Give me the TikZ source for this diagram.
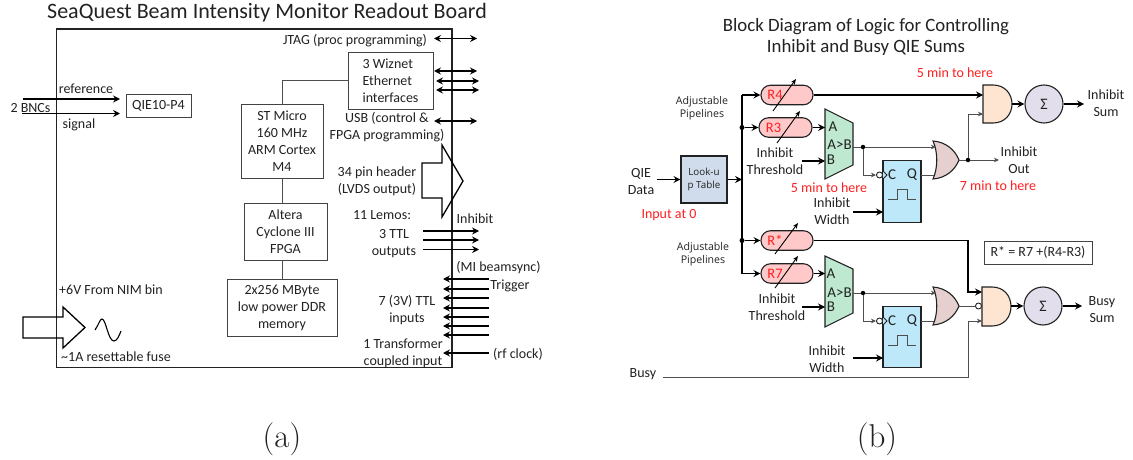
\documentclass[tikz,border=0pt]{standalone}
\usepackage{fontspec}
\setmainfont{Carlito}
\newfontfamily\verafont{Open Sans}
\newfontfamily\lmfont{Latin Modern Roman}
\usetikzlibrary{arrows.meta}
\definecolor{rfill}{HTML}{FFC9C9}
\definecolor{muxfill}{HTML}{BFE8D0}
\definecolor{lutfill}{HTML}{D0DCEC}
\definecolor{fffill}{HTML}{BCE8FA}
\definecolor{orfill}{HTML}{E5CFCF}
\definecolor{andfill}{HTML}{FDE5D2}
\definecolor{sumfill}{HTML}{E2DEEC}
\definecolor{ink}{HTML}{222222}
\definecolor{redtxt}{HTML}{FF2020}
\tikzset{
  lab/.style={inner sep=0pt,align=center,text=ink,font=\fontsize{14}{17}\selectfont},
  redlab/.style={lab,text=redtxt},
  smalllab/.style={inner sep=0pt,align=center,text=ink,font=\verafont\fontsize{10.6}{13}\selectfont},
  blockbox/.style={draw=ink!85,line width=0.9pt,inner sep=0pt,align=center,text=ink,font=\fontsize{14}{17}\selectfont},
  frameline/.style={draw=ink,line width=1.3pt},
  wire/.style={draw=ink!80,line width=0.9pt},
  arr/.style={draw=black,line width=1.05pt,-{Stealth[length=7pt,width=7pt,inset=2.5pt]}},
  darr/.style={draw=black,line width=1.05pt,{Stealth[length=7pt,width=7pt,inset=2.5pt]}-{Stealth[length=7pt,width=7pt,inset=2.5pt]}},
  thinarr/.style={draw=ink!80,line width=0.9pt,-{Stealth[length=5pt,width=4.5pt,inset=1.5pt]}},
  hollow/.style={draw=black,line width=1.3pt},
  pipe/.style={draw=ink,line width=1.1pt,fill=rfill,rounded corners=9.5pt,inner sep=0pt,minimum height=19.5pt,text=redtxt,font=\fontsize{14.5}{17}\selectfont},
  adj/.style={draw=black,line width=0.9pt,-{Stealth[length=5.5pt,width=4.5pt,inset=1.5pt]}},
  muxshape/.style={draw=ink,line width=1.1pt,fill=muxfill},
  ffbox/.style={draw=ink,line width=1.1pt,fill=fffill,inner sep=0pt,minimum width=38pt,minimum height=61.5pt},
  gate/.style={draw=ink,line width=1.1pt},
  sumnode/.style={draw=ink,line width=1.1pt,fill=sumfill,circle,inner sep=0pt,minimum size=38pt,text=ink,font=\fontsize{16}{17}\selectfont},
  bubble/.style={draw=ink,line width=0.9pt,fill=white,circle,inner sep=0pt,minimum size=6pt},
  dot/.style={fill=black,circle,inner sep=0pt,minimum size=5pt},
  pulse/.style={draw=ink!80,line width=1pt},
  gatelab/.style={lab,font=\fontsize{15}{17}\selectfont},
}
\begin{document}
\begin{tikzpicture}[x=1pt,y=-1pt]
\fill[white] (0,0) rectangle (1133,460);
\useasboundingbox (0,0) rectangle (1133,460);

% ---------- panel (a)
\node[lab,font=\fontsize{22}{24}\selectfont] (titleA) at (267,13) {SeaQuest Beam Intensity Monitor Readout Board};
\draw[frameline] (56.5,29) rectangle (452,367.5);
\node[lab,font=\lmfont\fontsize{33}{36}\selectfont,text=ink] (capA) at (282,439) {(a)};

\node[blockbox,minimum width=65pt,minimum height=23pt] (qie) at (158.5,105.5) {QIE10-P4};
\node[blockbox,minimum width=82pt,minimum height=74pt] (st) at (282,141) {ST Micro\\160 MHz\\ARM Cortex\\M4};
\node[blockbox,minimum width=85pt,minimum height=57pt,align=left] (wiz) at (390.5,80.5) {3 Wiznet\\Ethernet\\interfaces};
\node[blockbox,minimum width=83pt,minimum height=57pt] (alt) at (285.5,231.5) {Altera\\Cyclone III\\FPGA};
\node[blockbox,minimum width=110pt,minimum height=57pt] (mem) at (282,307.5) {2x256 MByte\\low power DDR\\memory};
\draw[wire] (st.north) |- (wiz.west);
\draw[wire] (st.south) -- (st.south |- alt.north);
\draw[wire] (alt.south -| st.south) -- (mem.north);

\coordinate (refA) at (23,99); \coordinate (refB) at (120,99);
\coordinate (sigA) at (22,113.5); \coordinate (sigB) at (120,113.5);
\draw[arr] (refA) -- (refB);
\draw[arr] (sigA) -- (sigB);
\node[lab] (lref) at (86,89) {reference};
\node[lab] (lsig) at (79,125) {signal};
\node[lab] (lbnc) at (30.5,108) {2 BNCs};

\node[lab] (ljtag) at (355,41) {JTAG (proc programming)};
\coordinate (jA) at (434,38.5); \coordinate (jB) at (477,38.5);
\coordinate (w1A) at (434,71); \coordinate (w1B) at (477,71);
\coordinate (w2A) at (436,81); \coordinate (w2B) at (479,81);
\coordinate (w3A) at (436,90); \coordinate (w3B) at (479,90);
\coordinate (uA) at (434,121); \coordinate (uB) at (477,121);
\draw[darr] (jA) -- (jB);
\draw[darr] (w1A) -- (w1B);
\draw[darr] (w2A) -- (w2B);
\draw[darr] (w3A) -- (w3B);
\draw[darr] (uA) -- (uB);
\node[lab] (lusb) at (387,127.5) {USB (control \&\\FPGA programming)};

\draw[hollow] (422,163) -- (442,163) -- (442,145) -- (463,181) -- (442,217) -- (442,198) -- (422,198) -- cycle;
\node[lab] (lhdr) at (377,181) {34 pin header\\(LVDS output)};
\node[lab] (llem) at (382,215) {11 Lemos:};
\node[lab] (lttl) at (394,243.5) {3 TTL\\outputs};
\node[lab] (linh) at (475,219) {Inhibit};
\foreach \n/\y in {a/231,b/240,c/249.5}{
  \coordinate (o\n A) at (423,\y); \coordinate (o\n B) at (479,\y);
  \draw[arr] (o\n A) -- (o\n B);
}
\node[lab] (lmi) at (498.5,268) {(MI beamsync)};
\node[lab] (ltrg) at (510,286) {Trigger};
\foreach \n/\y in {a/279,b/289,c/298,d/308,e/317,f/326,g/335,h/353}{
  \coordinate (i\n A) at (489,\y); \coordinate (i\n B) at (443,\y);
  \draw[arr] (i\n A) -- (i\n B);
}
\node[lab] (l7v) at (407,310) {7 (3V) TTL\\inputs};
\node[lab] (ltr) at (403,353.5) {1 Transformer\\coupled input};
\node[lab,anchor=west] (lrf) at (493,354) {(rf clock)};
\node[lab,anchor=west] (l6v) at (59,290) {+6V From NIM bin};
\node[lab,anchor=west] (lfuse) at (61,357) {\textasciitilde 1A resettable fuse};
\draw[hollow] (23,317) -- (63,317) -- (63,307) -- (85,327.5) -- (63,348) -- (63,338) -- (23,338) -- cycle;
\draw[hollow,line width=1.1pt] (95,330) .. controls (99,324) and (100,319) .. (102,319) .. controls (106,319) and (108,341) .. (114,341) .. controls (117,341) and (119,336) .. (121,331);

% ---------- panel (b)
\node[lab,font=\fontsize{18.8}{21}\selectfont] (titleB) at (866,36.5) {Block Diagram of Logic for Controlling\\Inhibit and Busy QIE Sums};
\node[lab,font=\lmfont\fontsize{33}{36}\selectfont,text=ink] (capB) at (877,439) {(b)};

\node[draw=ink,line width=1.1pt,fill=lutfill,inner sep=0pt,minimum width=46pt,minimum height=47pt,align=center,text=ink,font=\verafont\fontsize{9.8}{13.5}\selectfont] (lut) at (704,179.5) {Look-u\\p Table};
\node[lab] (lqie) at (641,181.5) {QIE\\Data};
\coordinate (qieIn) at (657,179.5);
\draw[arr] (qieIn) -- (lut.west);
\node[redlab] (lin0) at (669,215) {Input at 0};
\node[smalllab] (lap1) at (702,108.5) {Adjustable\\Pipelines};
\node[smalllab] (lap2) at (703,254.5) {Adjustable\\Pipelines};

\node[pipe,minimum width=52pt] (R4) at (787,95) {\hspace*{-24pt}R4};
\node[pipe,minimum width=53pt] (R3) at (785.5,127.5) {\hspace*{-24pt}R3};
\node[pipe,minimum width=52pt] (Rs) at (787,240.5) {\hspace*{-24pt}R*};
\node[pipe,minimum width=52pt] (R7) at (787,273.5) {\hspace*{-24pt}R7};
\coordinate (busT) at (742,95);
\coordinate (busL) at (742,179.5);
\coordinate (busB) at (742,273.5);
\node[dot] (d3) at (742,127.5) {};
\node[dot] (ds) at (742,240.5) {};
\draw[arr] (lut.east) -- (busL);
\draw[draw=black,line width=1.05pt,line join=miter] (R4.west -| busT) -- (busB);
\draw[arr] (busT) -- (R4.west);
\draw[arr] (d3) -- (R3.west);
\draw[arr] (ds) -- (Rs.west);
\draw[arr] (busB) -- (R7.west);
\foreach \n/\ax/\ay/\bx/\by in {R4/773/111/796/79,R3/777/143/800/111,Rs/775/254/798/223,R7/775/288/798/256}{
  \coordinate (\n a) at (\ax,\ay); \coordinate (\n b) at (\bx,\by);
  \draw[adj] (\n a) -- (\n b);
}

% muxes
\draw[muxshape] (825,109) -- (853,123) -- (853,165) -- (825,179) -- cycle;
\draw[muxshape] (825,256) -- (853,269) -- (853,313) -- (825,327) -- cycle;
\node[gatelab] (m1a) at (833,127) {A};
\node[gatelab] (m1c) at (839.5,145) {A>B};
\node[gatelab] (m1b) at (831,160) {B};
\node[gatelab] (m2a) at (831,274) {A};
\node[gatelab] (m2c) at (839.5,293) {A>B};
\node[gatelab] (m2b) at (831,307) {B};
\coordinate (m1A) at (825,127.5); \coordinate (m1B) at (825,161); \coordinate (m1O) at (853,147);
\coordinate (m2A) at (825,273.5); \coordinate (m2B) at (825,307); \coordinate (m2O) at (853,293);
\draw[arr] (R3.east) -- (m1A);
\draw[arr] (R7.east) -- (m2A);
\coordinate (t1) at (802,161); \coordinate (t2) at (802,307);
\draw[arr] (t1) -- (m1B);
\draw[arr] (t2) -- (m2B);
\node[lab] (lt1) at (775,161.5) {Inhibit\\Threshold};
\node[lab] (lt2) at (777,307.5) {Inhibit\\Threshold};
\node[redlab] (l5a) at (829,188) {5 min to here};
\node[lab] (lw1) at (832,211.5) {Inhibit\\Width};
\node[lab] (lw2) at (827,359.5) {Inhibit\\Width};

% flip-flops
\node[ffbox] (ff1) at (902,191.5) {};
\node[ffbox] (ff2) at (902,337) {};
\foreach \f/\n/\y in {ff1/a/175,ff2/b/321}{
  \node[gatelab] (\n C) at (892,\y) {C};
  \node[gatelab] (\n Q) at (912,\y) {Q};
  \draw[gate,fill=fffill,line width=0.8pt] (883,\y-4) -- (887,\y) -- (883,\y+4);
  \node[bubble] (\n bub) at (879.5,\y) {};
}
\draw[pulse] (888,199) -- (897,199) -- (897,189) -- (907,189) -- (907,199) -- (916,199);
\draw[pulse] (888,345) -- (897,345) -- (897,335) -- (907,335) -- (907,345) -- (916,345);
\coordinate (w1) at (853,212); \coordinate (w1E) at (883,212);
\coordinate (w2) at (853,358); \coordinate (w2E) at (883,358);
\draw[arr] (w1) -- (w1E);
\draw[arr] (w2) -- (w2E);

% OR gates
\draw[gate,fill=orfill] (933,141) .. controls (946,142) and (955,150) .. (959,160) .. controls (955,170) and (946,178) .. (933,179) .. controls (938,168) and (938,152) .. (933,141) -- cycle;
\draw[gate,fill=orfill] (933,287) .. controls (946,288) and (955,296) .. (959,306) .. controls (955,316) and (946,324) .. (933,325) .. controls (938,314) and (938,298) .. (933,287) -- cycle;
\coordinate (or1T) at (936,147); \coordinate (or1B) at (934,175); \coordinate (or1O) at (959,160);
\coordinate (or2T) at (936,293); \coordinate (or2B) at (934,321); \coordinate (or2O) at (959,306);

% AND gates
\draw[gate,fill=andfill] (983,85) -- (993,85) .. controls (1005,85) and (1012,94) .. (1012,104) .. controls (1012,114) and (1005,123) .. (993,123) -- (983,123) -- cycle;
\draw[gate,fill=andfill] (982,287) -- (992,287) .. controls (1004,287) and (1011,296) .. (1011,306.5) .. controls (1011,317) and (1004,326) .. (992,326) -- (982,326) -- cycle;
\coordinate (an1T) at (983,95); \coordinate (an1B) at (983,114); \coordinate (an1O) at (1012,104);
\coordinate (an2T) at (982,292); \coordinate (an2M) at (982,306); \coordinate (an2B) at (982,321); \coordinate (an2O) at (1011,306);

\node[sumnode] (s1) at (1044,104) {Σ};
\node[sumnode] (s2) at (1043,306) {Σ};
\coordinate (s1E) at (1084,104); \coordinate (s2E) at (1082,306);

% wiring upper
\node[dot,minimum size=4.5pt] (d1) at (863,147) {};
\draw[wire] (m1O) -- (d1);
\draw[thinarr] (d1) -- (or1T);
\draw[thinarr] (d1) |- (abub.west);
\draw[wire] (921,175) -- (or1B);
\node[dot,minimum size=4.5pt] (dor) at (968,160) {};
\draw[wire] (or1O) -- (dor);
\coordinate (outE) at (999,160);
\draw[thinarr] (dor) -- (outE);
\draw[thinarr] (dor) |- (an1B);
\draw[arr] (R4.east) -- (an1T |- R4.east);
\draw[arr] (an1O) -- (s1.west);
\draw[arr] (s1.east) -- (s1E);
\node[lab] (lio) at (1019,160.5) {Inhibit\\Out};
\node[redlab] (l7) at (998,186) {7 min to here};
\node[redlab] (l5b) at (955,73) {5 min to here};
\node[lab] (lis) at (1106,103.5) {Inhibit\\Sum};

% wiring lower
\node[dot,minimum size=4.5pt] (d2) at (863,293) {};
\draw[wire] (m2O) -- (d2);
\draw[thinarr] (d2) -- (or2T);
\draw[thinarr] (d2) |- (bbub.west);
\draw[wire] (921,321) -- (or2B);
\node[bubble] (nbub) at (978.5,306) {};
\draw[wire] (or2O) -- (nbub);
\coordinate (rsC) at (968,240.5);
\draw[arr] (Rs.east) -- (rsC) |- (an2T);
\node[lab,anchor=center] (lbusy) at (643,374) {Busy};
\coordinate (busyA) at (663,377); \coordinate (busyC) at (968,377);
\draw[thinarr] (busyA) -- (busyC) |- (an2B);
\draw[arr] (an2O) -- (s2.west);
\draw[arr] (s2.east) -- (s2E);
\node[lab] (lbs) at (1102,309.5) {Busy\\Sum};
\node[blockbox,minimum width=108pt,minimum height=23pt] (rstar) at (1038,252.5) {R* = R7 +(R4-R3)};
\end{tikzpicture}
\end{document}
